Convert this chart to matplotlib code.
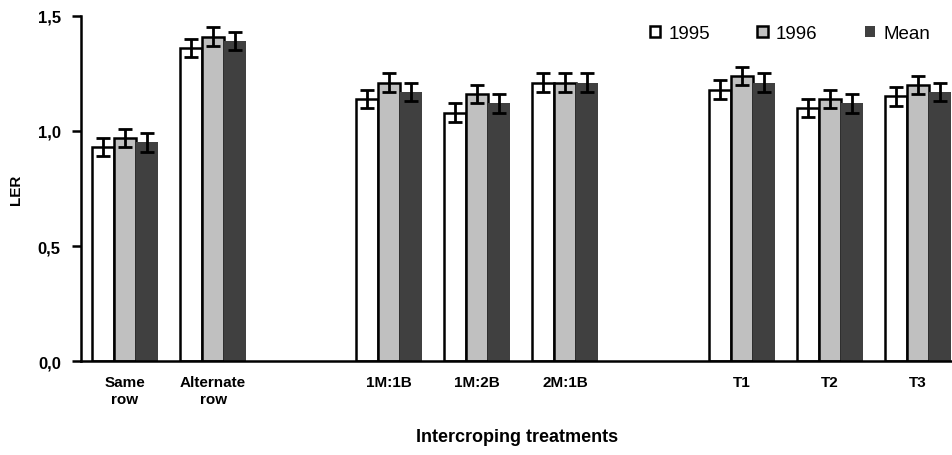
import numpy as np
import matplotlib.pyplot as plt

plt.rcParams['font.family'] = ['Liberation Sans', 'DejaVu Sans']

# data
treatments = ["Same\nrow", "Alternate\nrow", "1M:1B", "1M:2B", "2M:1B", "T1", "T2", "T3"]
slots = [0, 1, 3, 4, 5, 7, 8, 9]
series = ["1995", "1996", "Mean"]
ler_1995 = [0.93, 1.36, 1.14, 1.08, 1.21, 1.18, 1.10, 1.15]
ler_1996 = [0.97, 1.41, 1.21, 1.16, 1.21, 1.24, 1.14, 1.20]
ler_mean = [0.95, 1.39, 1.17, 1.12, 1.21, 1.21, 1.12, 1.17]
err_1995 = [0.04, 0.04, 0.04, 0.04, 0.04, 0.04, 0.04, 0.04]
err_1996 = [0.04, 0.04, 0.04, 0.04, 0.04, 0.04, 0.04, 0.04]
err_mean = [0.04, 0.04, 0.04, 0.04, 0.04, 0.04, 0.04, 0.04]

fig = plt.figure(figsize=(9.53, 4.56), dpi=100)
ax = fig.add_axes([0.085, 0.206, 0.915, 0.757])

x = np.array(slots, dtype=float)
w = 0.25
styles = [
    dict(color="white", edgecolor="black", linewidth=1.8),
    dict(color="#c0c0c0", edgecolor="black", linewidth=1.8),
    dict(color="#404040", edgecolor="none", linewidth=0),
]
vals = [ler_1995, ler_1996, ler_mean]
errs = [err_1995, err_1996, err_mean]
for i in range(3):
    ax.bar(x + (i - 1) * w, vals[i], w, label=series[i], zorder=2, **styles[i])
    ax.errorbar(x + (i - 1) * w, vals[i], yerr=errs[i], fmt="none",
                ecolor="black", elinewidth=2, capsize=5, capthick=2, zorder=3)

ax.set_xlim(-0.5, 9.4)
ax.set_ylim(0, 1.5)
ax.set_yticks([0, 0.5, 1.0, 1.5])
ax.set_yticklabels(["0,0", "0,5", "1,0", "1,5"], fontsize=12, fontweight="bold")
ax.set_xticks(x)
ax.set_xticklabels(treatments, fontsize=11, fontweight="bold", linespacing=1.3)
ax.tick_params(axis="x", length=0, pad=10)
ax.tick_params(axis="y", length=6.5, width=1.8, pad=8)

for s in ["top", "right"]:
    ax.spines[s].set_visible(False)
for s in ["left", "bottom"]:
    ax.spines[s].set_linewidth(1.8)

ax.set_xlabel("Intercroping treatments", fontsize=13, fontweight="bold", labelpad=16)
fig.text(16 / 953, 1 - 190 / 456, "LER", rotation=90, fontsize=11,
         fontweight="bold", ha="center", va="center")

ax.legend(loc="upper right", ncol=3, frameon=False, fontsize=13.5,
          handlelength=0.55, handleheight=0.55, handletextpad=0.45,
          columnspacing=2.5, borderpad=0, borderaxespad=0,
          bbox_to_anchor=(0.976, 0.943), bbox_transform=fig.transFigure)

fig.savefig("out.png", dpi=100)
